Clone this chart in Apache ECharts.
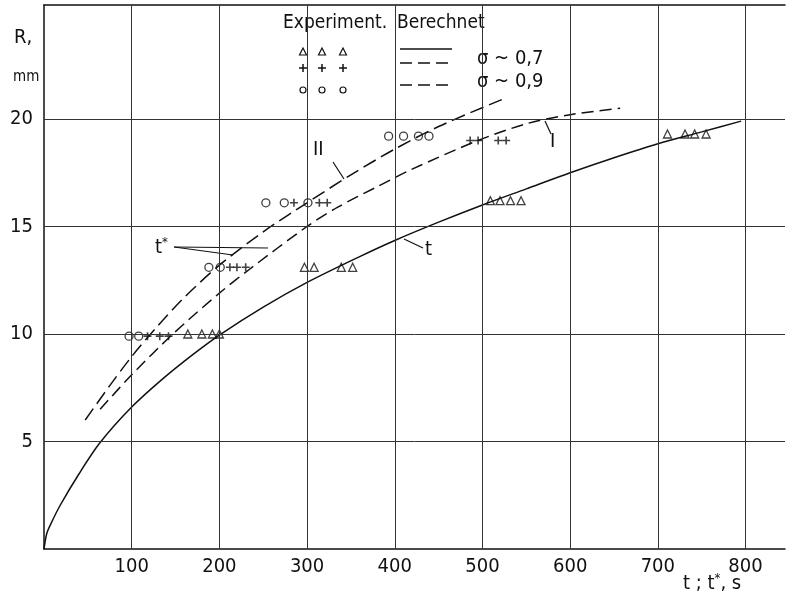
<!DOCTYPE html>
<html><head><meta charset="utf-8">
<script src="https://cdn.jsdelivr.net/npm/echarts@6/dist/echarts.min.js"></script>
<style>html,body{margin:0;padding:0;background:#fff}#c{width:788px;height:595px}</style>
</head><body><div id="c"></div>
<script>
const xTicks = [100, 200, 300, 400, 500, 600, 700, 800];
const yTicks = [5, 10, 15, 20];
// computed curves
const curveT = [[0,0],[3,0.7],[7,1.1],[18,2.0],[40,3.5],[64,4.95],[100,6.6],[135,7.9],[170,9.05],[200,9.95],[250,11.25],[300,12.4],[360,13.6],[400,14.35],[450,15.2],[500,16.0],[550,16.75],[600,17.5],[650,18.2],[700,18.85],[750,19.4],[795,19.9]];
const curveI = [[64,6.5],[100,8.1],[147,10.0],[200,11.9],[234,13.0],[300,15.0],[335,15.9],[380,16.85],[419,17.65],[495,19.0],[552,19.8],[600,20.2],[657,20.5]];
const curveII = [[47,6.0],[75,7.6],[100,8.95],[128,10.3],[160,11.7],[200,13.2],[250,14.75],[300,16.1],[350,17.4],[400,18.6],[450,19.65],[522,20.9]];
// experiments
const triPts = [[164,10],[180,10],[192,10],[200,10],[297,13.1],[308,13.1],[339,13.1],[352,13.1],[509,16.2],[520,16.2],[532,16.2],[544,16.2],[711,19.3],[731,19.3],[742,19.3],[755,19.3]];
const plusPts = [[118,9.9],[132,9.9],[142,9.9],[212,13.1],[220,13.1],[230,13.1],[285,16.1],[314,16.1],[323,16.1],[486,19.0],[495,19.0],[518,19.0],[527,19.0]];
const circPts = [[97,9.9],[108,9.9],[188,13.1],[201,13.1],[253,16.1],[274,16.1],[301,16.1],[393,19.2],[410,19.2],[427,19.2],[439,19.2]];

const FONT = "'Liberation Sans Narrow','DejaVu Sans Condensed',sans-serif";
const INK = '#111';
const PLUS = 'path://M4,0h2v4h4v2h-4v4h-2v-4h-4v-2h4z';

const chart = echarts.init(document.getElementById('c'));
const gridMarks = yTicks.map(v => ({yAxis: v})).concat(xTicks.map(v => ({xAxis: v})));

chart.setOption({
  animation: false,
  backgroundColor: '#fff',
  grid: {left: 44, right: 0, top: 5, bottom: 46, containLabel: false},
  xAxis: [{
    type: 'value', min: 0, max: 845, interval: 100,
    axisLine: {show: true, lineStyle: {color: INK, width: 1.5}},
    axisTick: {show: false}, splitLine: {show: false},
    axisLabel: {margin: 8, fontFamily: FONT, fontSize: 20, color: INK,
      formatter: v => xTicks.includes(v) ? String(v) : ''}
  }, {
    type: 'value', position: 'top', min: 0, max: 845,
    axisLine: {show: true, lineStyle: {color: INK, width: 1.5}},
    axisTick: {show: false}, axisLabel: {show: false}, splitLine: {show: false}
  }],
  yAxis: {
    type: 'value', min: 0, max: 25.3, interval: 5,
    axisLine: {show: true, lineStyle: {color: INK, width: 1.5}},
    axisTick: {show: false}, splitLine: {show: false},
    axisLabel: {margin: 11, fontFamily: FONT, fontSize: 20, color: INK,
      formatter: v => yTicks.includes(v) ? String(v) : ''}
  },
  series: [
    {type: 'line', data: curveT, smooth: 0.3, symbol: 'none',
      lineStyle: {color: INK, width: 1.5},
      markLine: {silent: true, symbol: ['none', 'none'], label: {show: false},
        lineStyle: {color: '#333', width: 1, type: 'solid'}, data: gridMarks}},
    {type: 'line', data: curveI, smooth: 0.3, symbol: 'none',
      lineStyle: {color: INK, width: 1.5, type: [12, 6]}},
    {type: 'line', data: curveII, smooth: 0.3, symbol: 'none',
      lineStyle: {color: INK, width: 1.5, type: [14, 6]}},
    {type: 'scatter', data: triPts, symbol: 'triangle', symbolSize: [8, 8],
      itemStyle: {color: 'rgba(0,0,0,0)', borderColor: INK, borderWidth: 1.3}},
    {type: 'scatter', data: plusPts, symbol: PLUS, symbolSize: 8,
      itemStyle: {color: INK}},
    {type: 'scatter', data: circPts, symbol: 'circle', symbolSize: 8,
      itemStyle: {color: 'rgba(0,0,0,0)', borderColor: INK, borderWidth: 1.3}}
  ],
  graphic: [
    {type: 'text', left: 14, top: 28, style: {text: 'R,', font: '20px ' + FONT, fill: INK}},
    {type: 'text', left: 13, top: 70, style: {text: 'mm', font: '15px ' + FONT, fill: INK}},
    {type: 'text', left: 683, top: 572, style: {
      text: '{a|t ; t}{s|*}{a|, s}',
      rich: {a: {fontFamily: FONT, fontSize: 20, fill: INK}, s: {fontFamily: FONT, fontSize: 13, fill: INK, verticalAlign: 'top', padding: [0, 0, 10, 0]}}}},
    // legend
    {type: 'text', left: 283, top: 14, style: {text: 'Experiment.', font: '19px ' + FONT, fill: INK}},
    {type: 'text', left: 397, top: 14, style: {text: 'Berechnet', font: '19px ' + FONT, fill: INK}},
    {type: 'text', left: 477, top: 49, style: {text: 'σ ~ 0,7', font: '20px ' + FONT, fill: INK}},
    {type: 'text', left: 477, top: 72, style: {text: 'σ ~ 0,9', font: '20px ' + FONT, fill: INK}},
    {type: 'line', shape: {x1: 400, y1: 49, x2: 452, y2: 49}, style: {stroke: INK, lineWidth: 1.5}},
    {type: 'line', shape: {x1: 400, y1: 63, x2: 452, y2: 63}, style: {stroke: INK, lineWidth: 1.5, lineDash: [12, 6]}},
    {type: 'line', shape: {x1: 400, y1: 85, x2: 452, y2: 85}, style: {stroke: INK, lineWidth: 1.5, lineDash: [12, 6]}},
    ...[303, 322, 343].map(x => ({type: 'polygon', shape: {points: [[x, 48], [x - 3.5, 55], [x + 3.5, 55]]}, style: {fill: 'none', stroke: INK, lineWidth: 1.2}})),
    ...[303, 322, 343].map(x => ({type: 'group', children: [
      {type: 'line', shape: {x1: x - 4, y1: 68, x2: x + 4, y2: 68}, style: {stroke: INK, lineWidth: 1.5}},
      {type: 'line', shape: {x1: x, y1: 64, x2: x, y2: 72}, style: {stroke: INK, lineWidth: 1.5}}]})),
    ...[303, 322, 343].map(x => ({type: 'circle', shape: {cx: x, cy: 90, r: 3}, style: {fill: 'none', stroke: INK, lineWidth: 1.2}})),
    // curve annotations
    {type: 'text', left: 313, top: 140, style: {text: 'II', font: '20px ' + FONT, fill: INK}},
    {type: 'line', shape: {x1: 333, y1: 162, x2: 344, y2: 179}, style: {stroke: INK, lineWidth: 1.2}},
    {type: 'text', left: 550, top: 132, style: {text: 'I', font: '20px ' + FONT, fill: INK}},
    {type: 'line', shape: {x1: 545, y1: 121, x2: 551, y2: 134}, style: {stroke: INK, lineWidth: 1.2}},
    {type: 'text', left: 425, top: 240, style: {text: 't', font: '20px ' + FONT, fill: INK}},
    {type: 'line', shape: {x1: 404, y1: 239, x2: 423, y2: 248}, style: {stroke: INK, lineWidth: 1.2}},
    {type: 'text', left: 155, top: 236, style: {
      text: '{a|t}{s|*}',
      rich: {a: {fontFamily: FONT, fontSize: 20, fill: INK}, s: {fontFamily: FONT, fontSize: 13, fill: INK, verticalAlign: 'top', padding: [0, 0, 10, 0]}}}},
    {type: 'line', shape: {x1: 174, y1: 247, x2: 233, y2: 255}, style: {stroke: INK, lineWidth: 1.2}},
    {type: 'line', shape: {x1: 174, y1: 247, x2: 268, y2: 248}, style: {stroke: INK, lineWidth: 1.2}}
  ]
});
</script></body></html>
